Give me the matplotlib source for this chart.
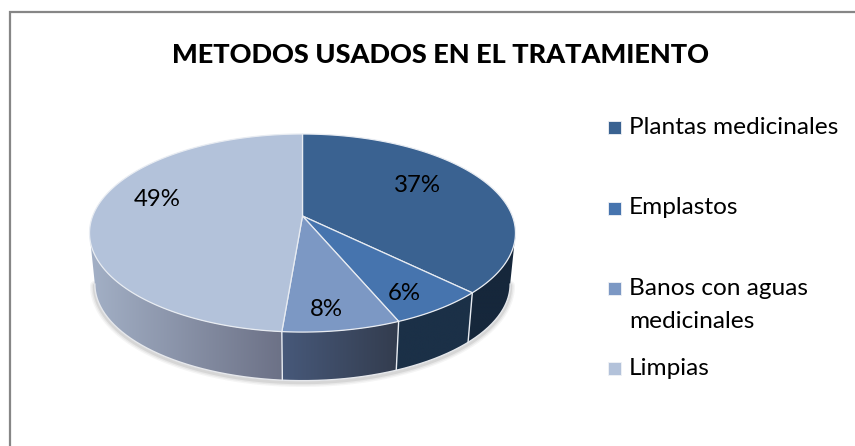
import numpy as np
import matplotlib
matplotlib.use("Agg")
import matplotlib.pyplot as plt
from matplotlib.colors import to_rgb
from matplotlib.patches import Polygon, Rectangle

title = "METODOS USADOS EN EL TRATAMIENTO"
categories = ["Plantas medicinales", "Emplastos", "Banos con aguas\nmedicinales", "Limpias"]
values = [37.4, 6.3, 7.6, 48.7]
top_colors = ["#3A6291", "#4674AE", "#7C98C4", "#B3C2DA"]
side_left = ["#16273B", "#1B3047", "#47597A", "#A3B0C6"]
side_right = ["#16273B", "#1B3047", "#333C4E", "#6C7186"]
legend_y = [127.5, 208, 288.5, 368.5]
label_pos = [(417, 186), (404, 294), (326, 309), (157, 199)]

plt.rcParams["font.family"] = ["Lato", "DejaVu Sans"]
W, H = 855, 446
fig = plt.figure(figsize=(W / 100, H / 100), dpi=100)
ax = fig.add_axes([0, 0, 1, 1])
ax.set_xlim(0, W)
ax.set_ylim(H, 0)
ax.axis("off")

ax.add_patch(Rectangle((10, 11.5), 860, 460, fc="white", ec="#868686", lw=1.6))

# perspective projection of the pie disc
cx, apex_y, A, B, k = 302.5, 216, 209.8, 96.1, 0.172
base_scale, base_drop = 0.975, 51.5


def rim(theta):
    X, Y = np.sin(theta), -np.cos(theta)
    w = 1 - k * Y
    return cx + A * X / w, apex_y + B * Y / w


def base(theta):
    x, y = rim(theta)
    return cx + base_scale * (x - cx), apex_y + base_drop + base_scale * (y - apex_y)


edges = 2 * np.pi * np.cumsum([0] + values) / sum(values)
vis0, vis1 = np.pi - np.arccos(k), np.pi + np.arccos(k)

# soft shadow under the wall
th = np.linspace(vis0, vis1, 300)
bx, by = base(th)
for lw, a in [(7, .05), (5, .07), (3, .10)]:
    ax.plot(bx, by + 1.5, color="#404040", lw=lw, alpha=a, zorder=1, solid_capstyle="round")

# walls
for i in range(len(values)):
    a0, a1 = max(edges[i], vis0), min(edges[i + 1], vis1)
    if a1 <= a0:
        continue
    t = np.linspace(a0, a1, 120)
    x, y = rim(t)
    x2, y2 = base(t)
    poly = Polygon(np.r_[np.c_[x, y], np.c_[x2[::-1], y2[::-1]]], fc="none", ec="none", zorder=2)
    ax.add_patch(poly)
    grad = np.linspace(0, 1, 256)[None, :, None]
    img = (1 - grad) * np.array(to_rgb(side_left[i]))[None, None, :] + grad * np.array(to_rgb(side_right[i]))[None, None, :]
    xs = np.r_[x, x2]
    ys = np.r_[y, y2]
    im = ax.imshow(img, extent=(xs.min(), xs.max(), ys.max(), ys.min()), aspect="auto", zorder=2, interpolation="bilinear")
    im.set_clip_path(poly)
    if vis0 < edges[i + 1] < vis1:
        p = rim(edges[i + 1])
        q = base(edges[i + 1])
        ax.plot([p[0], q[0]], [p[1], q[1]], color="#E8ECF2", lw=1.0, zorder=3)

ax.plot(bx, by, color="#E6E8EC", lw=1.0, zorder=3)
ax.set_xlim(0, W)
ax.set_ylim(H, 0)

# top faces
for i in range(len(values)):
    t = np.linspace(edges[i], edges[i + 1], 200)
    x, y = rim(t)
    verts = np.r_[[(cx, apex_y)], np.c_[x, y]]
    ax.add_patch(Polygon(verts, closed=True, fc=top_colors[i], ec="#E8ECF2", lw=0.9, joinstyle="round", zorder=4))

for v, (x, y) in zip(values, label_pos):
    ax.text(x, y, f"{v:.0f}%", ha="center", va="center", fontsize=17.3, color="black", zorder=6)

ax.text(440, 55, title, ha="center", va="center", fontsize=19.5, fontweight="black", color="black")

for c, name, y in zip(top_colors, categories, legend_y):
    ax.add_patch(Rectangle((608, y - 6.5), 13, 13, fc=c, ec="#F0F2F6", lw=0.6))
    lines = name.split("\n")
    for j, line in enumerate(lines):
        ax.text(629, y + 32.5 * j, line, ha="left", va="center", fontsize=17.6, color="black")

fig.savefig("out.png", dpi=100)
